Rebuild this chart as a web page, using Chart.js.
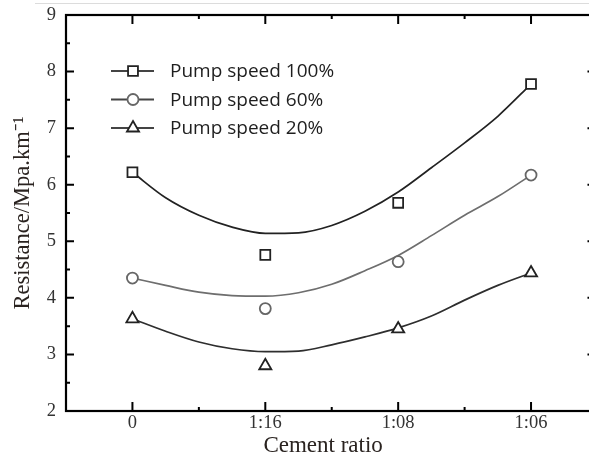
<!DOCTYPE html>
<html>
<head>
<meta charset="utf-8">
<script src="https://cdn.jsdelivr.net/npm/chart.js@4"></script>
<style>
  html, body { margin: 0; padding: 0; background: #fff; overflow: hidden; }
  #chart { display: block; }
</style>
</head>
<body>
<canvas id="chart" width="589" height="464"></canvas>
<script>
// measured points
const categories = ["0", "1:16", "1:08", "1:06"];
const speed100 = [6.22, 4.76, 5.68, 7.78];
const speed60 = [4.35, 3.81, 4.64, 6.17];
const speed20 = [3.63, 2.80, 3.45, 4.44];

// fitted curves at quarter-category steps
const fitX = [0, 0.25, 0.5, 0.75, 1, 1.25, 1.5, 1.75, 2, 2.25, 2.5, 2.75, 3];
const fit100 = [6.22, 5.77, 5.46, 5.25, 5.14, 5.15, 5.28, 5.53, 5.87, 6.30, 6.74, 7.21, 7.78];
const fit60 = [4.35, 4.22, 4.10, 4.04, 4.03, 4.09, 4.24, 4.48, 4.75, 5.10, 5.46, 5.79, 6.17];
const fit20 = [3.63, 3.41, 3.22, 3.10, 3.05, 3.06, 3.17, 3.31, 3.47, 3.68, 3.96, 4.22, 4.44];

const yTicks = [2, 3, 4, 5, 6, 7, 8, 9];

// the original frame runs to 3.5, but the picture is cropped short of it
const xFrameMax = 3.5;
const xVisibleMax = 3.37;

const legendItems = [
  { label: "Pump speed 100%", style: "rect", radius: 7, color: "#222" },
  { label: "Pump speed 60%", style: "circle", radius: 5.5, color: "#666" },
  { label: "Pump speed 20%", style: "triangle", radius: 7, color: "#222" },
];

const toPoints = (xs, ys) => ys.map((v, i) => ({ x: xs[i], y: v }));
const idx = categories.map((c, i) => i);

function markers(values, style, radius, color) {
  return {
    type: "scatter",
    data: toPoints(idx, values),
    pointStyle: style,
    pointRadius: radius,
    pointBorderWidth: 1.8,
    borderColor: color,
    backgroundColor: "#fff",
    showLine: false,
    order: 0,
  };
}

function curve(values, color) {
  return {
    type: "line",
    data: toPoints(fitX, values),
    borderColor: color,
    borderWidth: 1.7,
    pointRadius: 0,
    cubicInterpolationMode: "monotone",
    fill: false,
    order: 1,
  };
}

// scales add label overflow padding to the chart area; the frame sits on fixed edges here
const noEdgePadding = (s) => {
  s.paddingTop = 0;
  s.paddingBottom = 0;
  s.paddingLeft = 0;
  s.paddingRight = 0;
};

const framePlugin = {
  id: "frame",
  afterDatasetsDraw(chart) {
    const { ctx, chartArea: a, scales: { x, y } } = chart;
    const right = x.getPixelForValue(xFrameMax);
    ctx.save();
    // screenshot edge line
    ctx.strokeStyle = "#dcdcdc";
    ctx.lineWidth = 1;
    ctx.beginPath();
    ctx.moveTo(35, 3.5);
    ctx.lineTo(chart.width, 3.5);
    ctx.stroke();

    ctx.strokeStyle = "#000";
    ctx.lineWidth = 2.2;
    ctx.strokeRect(a.left, a.top, right - a.left, a.bottom - a.top);

    ctx.lineWidth = 2;
    ctx.beginPath();
    const xTick = (v, len) => {
      const px = x.getPixelForValue(v);
      ctx.moveTo(px, a.bottom);
      ctx.lineTo(px, a.bottom - len);
      ctx.moveTo(px, a.top);
      ctx.lineTo(px, a.top + len);
    };
    idx.forEach((i) => {
      xTick(i, 9);
      xTick(i + 0.5, 4);
    });
    const yTick = (v, len) => {
      const py = y.getPixelForValue(v);
      ctx.moveTo(a.left, py);
      ctx.lineTo(a.left + len, py);
      ctx.moveTo(right, py);
      ctx.lineTo(right - len - 2, py);
    };
    yTicks.forEach((v) => {
      yTick(v, 8);
      if (v < 9) yTick(v + 0.5, 4);
    });
    ctx.stroke();

    // legend
    ctx.font = '19px "Open Sans"';
    ctx.textBaseline = "middle";
    ctx.textAlign = "left";
    legendItems.forEach((it, k) => {
      const ly = 71 + k * 28.5;
      ctx.strokeStyle = "#444";
      ctx.lineWidth = 1.8;
      ctx.beginPath();
      ctx.moveTo(111, ly);
      ctx.lineTo(154, ly);
      ctx.stroke();
      ctx.strokeStyle = it.color;
      ctx.fillStyle = "#fff";
      Chart.helpers.drawPoint(ctx, { pointStyle: it.style, radius: it.radius, rotation: 0, borderWidth: 1.8 }, 133, ly);
      ctx.fillStyle = "#1e1e1e";
      ctx.fillText(it.label, 170, ly + 1);
    });
    ctx.restore();
  },
};

const ctx = document.getElementById("chart").getContext("2d");
new Chart(ctx, {
  data: {
    datasets: [
      markers(speed100, "rect", 7, "#222"),
      markers(speed60, "circle", 5.5, "#666"),
      markers(speed20, "triangle", 7, "#222"),
      curve(fit100, "#222"),
      curve(fit60, "#6e6e6e"),
      curve(fit20, "#2e2e2e"),
    ],
  },
  options: {
    responsive: false,
    animation: false,
    layout: { padding: { top: 15, left: 0, right: 0, bottom: 0 } },
    plugins: { legend: { display: false }, tooltip: { enabled: false } },
    scales: {
      x: {
        type: "linear",
        min: -0.5,
        max: xVisibleMax,
        afterFit: (s) => { s.height = 53; noEdgePadding(s); },
        afterBuildTicks: (s) => { s.ticks = idx.map((i) => ({ value: i })); },
        grid: { display: false, drawTicks: false },
        border: { display: false },
        ticks: {
          padding: 1,
          color: "#333",
          font: { family: '"Liberation Serif"', size: 18.5 },
          callback: (v) => categories[v],
        },
        title: {
          display: true,
          text: "Cement ratio",
          color: "#2a2320",
          font: { family: '"Liberation Serif"', size: 23 },
          padding: { top: 0, bottom: 4 },
        },
      },
      y: {
        min: 2,
        max: 9,
        afterFit: (s) => { s.width = 66; noEdgePadding(s); },
        afterBuildTicks: (s) => { s.ticks = yTicks.map((v) => ({ value: v })); },
        grid: { display: false, drawTicks: false },
        border: { display: false },
        ticks: {
          padding: 10,
          color: "#333",
          font: { family: '"Liberation Serif"', size: 18.5 },
        },
        title: {
          display: true,
          text: "Resistance/Mpa.km\u207B\u00B9",
          color: "#2a2320",
          font: { family: '"Liberation Serif"', size: 22.5 },
          padding: { top: 10, bottom: 0 },
        },
      },
    },
  },
  plugins: [framePlugin],
});
</script>
</body>
</html>
